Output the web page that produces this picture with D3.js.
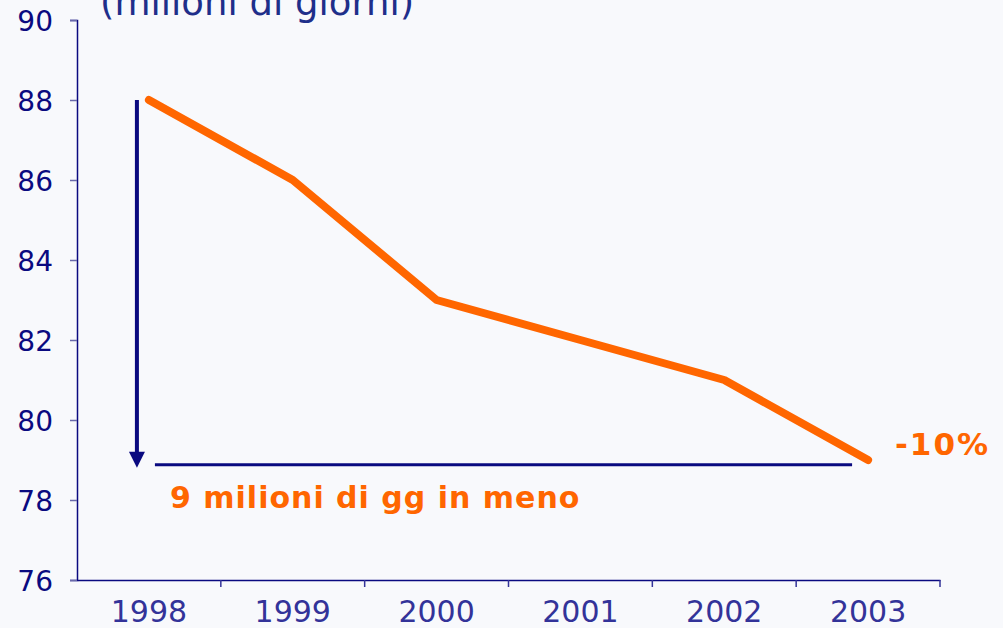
<!DOCTYPE html>
<html><head><meta charset="utf-8">
<script src="https://cdn.jsdelivr.net/npm/d3@7"></script>
<style>
html,body{margin:0;padding:0;background:#f8f9fc;}
svg{display:block;}
text{font-family:"DejaVu Sans",Verdana,sans-serif;}
</style></head>
<body>
<svg id="chart" width="1003" height="628"></svg>
<script>
const years = ["1998","1999","2000","2001","2002","2003"];
const values = [88, 86, 83, 82, 81, 79];
const yTicks = [76, 78, 80, 82, 84, 86, 88, 90];
const title = "(milioni di giorni)";
const deltaLabel = "9 milioni di gg in meno";
const pctLabel = "-10%";
const refLevel = 78.88;

const svg = d3.select("#chart");
const x = d3.scaleBand().domain(years).range([77, 940]);
const y = d3.scaleLinear().domain([76, 90]).range([580, 20]);
const navy = "#0a0a80";
const orange = "#ff6600";

// y axis
const ya = svg.append("g").attr("transform","translate(77,0)")
  .call(d3.axisLeft(y).tickValues(yTicks).tickSize(7).tickPadding(17).tickFormat(d3.format("d")));
ya.select(".domain").attr("stroke", navy).attr("stroke-width",1.5);
ya.selectAll(".tick line").attr("stroke", "#6a6aaa").attr("stroke-width",1.5);
ya.selectAll(".tick text").attr("fill", navy).style("font-size","28px").attr("dy","0.36em")
  .style("font-family","'DejaVu Sans',Verdana,sans-serif");

// x axis
const xa = svg.append("g").attr("transform","translate(0,580)")
  .call(d3.axisBottom(x).tickSize(0).tickPadding(21));
xa.select(".domain").attr("stroke", navy).attr("stroke-width",1.5);
xa.selectAll(".tick text").attr("fill", "#333399").style("font-size","30px")
  .style("font-family","'DejaVu Sans',Verdana,sans-serif");
// boundary ticks
const bounds = years.map(d => x(d) + x.bandwidth());
svg.append("g").selectAll("line").data(bounds).join("line")
  .attr("x1", d=>d).attr("x2", d=>d).attr("y1",580).attr("y2",587)
  .attr("stroke", "#333399").attr("stroke-width",1.5);

// title
svg.append("text").attr("x", 100).attr("y", 15).attr("fill", "#1f2f8a")
  .style("font-size","37px").text(title);

// arrow
const ax = x(years[0]) + x.bandwidth()/2 - 12;
svg.append("line").attr("x1", ax).attr("x2", ax).attr("y1", y(values[0])).attr("y2", y(refLevel)-12)
  .attr("stroke", navy).attr("stroke-width", 4);
svg.append("path")
  .attr("d", `M${ax-8},${y(refLevel)-13} L${ax+8},${y(refLevel)-13} L${ax},${y(refLevel)+3} Z`)
  .attr("fill", navy);
// horizontal line
svg.append("line").attr("x1", x(years[0]) + x.bandwidth()/2 + 6)
  .attr("x2", x(years[5]) + x.bandwidth()/2 - 16)
  .attr("y1", y(refLevel)).attr("y2", y(refLevel))
  .attr("stroke", navy).attr("stroke-width", 3);

// data line
const line = d3.line().x((d,i)=> x(years[i]) + x.bandwidth()/2).y(d=>y(d));
svg.append("path").datum(values).attr("d", line).attr("fill","none")
  .attr("stroke", orange).attr("stroke-width", 8).attr("stroke-linecap","round").attr("stroke-linejoin","round");

// labels
svg.append("text").attr("x", 170).attr("y", 508).attr("fill", orange)
  .style("font-size","30px").style("font-weight","bold").style("letter-spacing","1px").text(deltaLabel);
svg.append("text").attr("x", 895).attr("y", 455).attr("fill", orange)
  .style("font-size","31px").style("font-weight","bold").style("letter-spacing","2px").text(pctLabel);
</script>
</body></html>
